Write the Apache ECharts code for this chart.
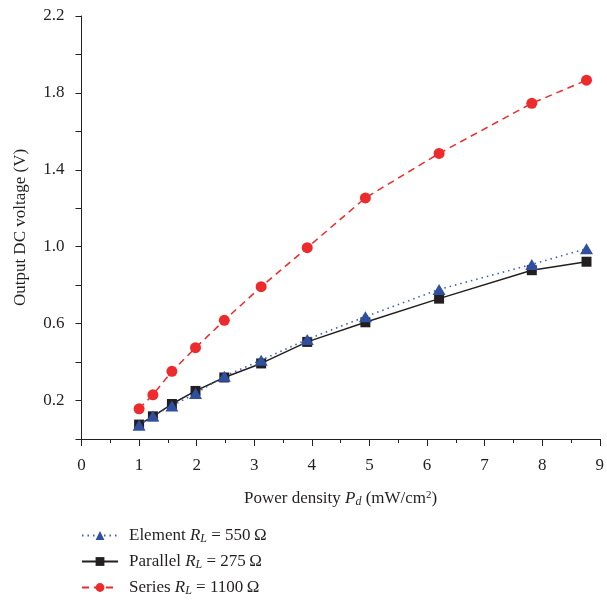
<!DOCTYPE html>
<html>
<head>
<meta charset="utf-8">
<script src="https://cdn.jsdelivr.net/npm/echarts@6/dist/echarts.min.js"></script>
<style>
  html, body { margin: 0; padding: 0; background: #fff; }
  #chart { width: 607px; height: 603px; }
</style>
</head>
<body>
<div id="chart"></div>
<script>
// power density Pd (mW/cm2)
const powerDensity = [1.0, 1.24, 1.57, 1.98, 2.48, 3.12, 3.92, 4.93, 6.21, 7.82, 8.77];
// output DC voltage (V)
const elementVals  = [0.072, 0.12, 0.172, 0.237, 0.326, 0.41, 0.518, 0.636, 0.778, 0.908, 0.99];
const parallelVals = [0.075, 0.118, 0.182, 0.25, 0.32, 0.393, 0.505, 0.607, 0.73, 0.878, 0.922];
const seriesVals   = [0.157, 0.23, 0.352, 0.475, 0.617, 0.792, 0.995, 1.254, 1.485, 1.746, 1.866];
const yLabels = [0.2, 0.6, 1.0, 1.4, 1.8, 2.2];

const legendNames = {
  element: 'Element {i|R}{sub|L} = 550\u2009Ω',
  parallel: 'Parallel {i|R}{sub|L} = 275\u2009Ω',
  series: 'Series {i|R}{sub|L} = 1100\u2009Ω'
};

const FONT = '"Liberation Serif", "DejaVu Serif", serif';

const pairs = (ys) => powerDensity.map((x, i) => [x, ys[i]]);

const chartDiv = document.getElementById('chart');
const myChart = echarts.init(chartDiv, null, { renderer: 'canvas' });

const richText = {
  i: { fontFamily: FONT, fontSize: 17, fontStyle: 'italic', color: '#231f20' },
  sub: { fontFamily: FONT, fontSize: 12, fontStyle: 'italic', color: '#231f20', padding: [7, 0, 0, 0] },
  sup: { fontFamily: FONT, fontSize: 11, color: '#231f20', padding: [0, 0, 7, 0] }
};

const option = {
  animation: false,
  backgroundColor: '#fff',
  grid: { left: 81.5, right: 5, top: 16, bottom: 164 },
  legend: {
    orient: 'vertical',
    left: 81,
    top: 527,
    height: 76,
    padding: 0,
    itemGap: 8,
    itemWidth: 36,
    itemHeight: 11,
    data: ['element', 'parallel', 'series'],
    formatter: (name) => legendNames[name],
    textStyle: { fontFamily: FONT, fontSize: 17, color: '#231f20', padding: [0, 0, 0, 6], rich: richText }
  },
  xAxis: {
    type: 'value',
    min: 0,
    max: 9,
    interval: 1,
    name: 'Power density {i|P}{sub|d} (mW/cm{sup|2})',
    nameLocation: 'middle',
    nameGap: 50,
    nameTextStyle: { fontFamily: FONT, fontSize: 17, color: '#231f20', rich: richText },
    axisLine: { onZero: false, lineStyle: { color: '#231f20', width: 1 } },
    axisTick: { length: 7, lineStyle: { color: '#231f20' } },
    minorTick: { show: true, splitNumber: 2, length: 4, lineStyle: { color: '#231f20' } },
    splitLine: { show: false },
    axisLabel: { fontFamily: FONT, fontSize: 17, color: '#231f20', margin: 18 }
  },
  yAxis: {
    type: 'value',
    min: 0,
    max: 2.2,
    interval: 0.2,
    name: 'Output DC voltage (V)',
    nameLocation: 'middle',
    nameGap: 52,
    nameTextStyle: { fontFamily: FONT, fontSize: 17, color: '#231f20' },
    axisLine: { show: true, onZero: false, lineStyle: { color: '#231f20', width: 1 } },
    axisTick: { show: true, length: 6, lineStyle: { color: '#231f20' } },
    splitLine: { show: false },
    axisLabel: {
      fontFamily: FONT, fontSize: 17, color: '#231f20', margin: 17,
      formatter: (v) => {
        const hit = yLabels.some(l => Math.abs(l - v) < 1e-6);
        return hit ? v.toFixed(1) : '';
      }
    }
  },
  series: [
    {
      name: 'parallel',
      type: 'line',
      data: pairs(parallelVals),
      symbol: 'rect',
      symbolSize: 10,
      z: 3,
      itemStyle: { color: '#231f20' },
      lineStyle: { color: '#231f20', width: 1.5, type: 'solid' }
    },
    {
      name: 'element',
      type: 'line',
      data: pairs(elementVals),
      symbol: 'triangle',
      symbolSize: [13, 11],
      z: 4,
      itemStyle: { color: '#2f4f9f' },
      lineStyle: { color: '#4060b0', width: 1.6, type: [1.5, 4] }
    },
    {
      name: 'series',
      type: 'line',
      data: pairs(seriesVals),
      symbol: 'circle',
      symbolSize: 11,
      z: 5,
      itemStyle: { color: '#ed2a2c' },
      lineStyle: { color: '#ed2a2c', width: 1.5, type: [7, 5] }
    }
  ]
};

myChart.setOption(option);
</script>
</body>
</html>
